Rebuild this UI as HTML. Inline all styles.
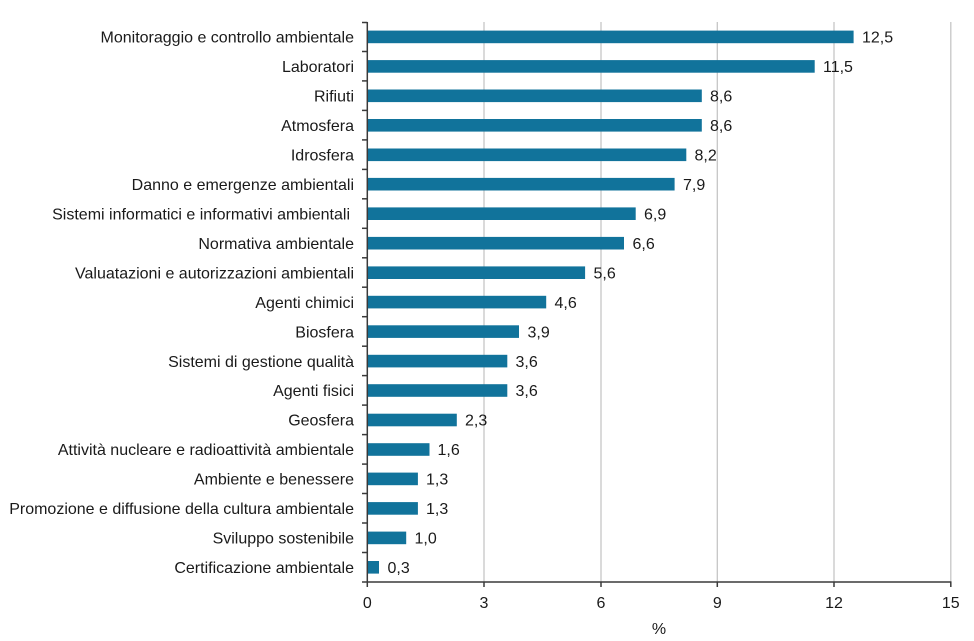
<!DOCTYPE html>
<html>
<head>
<meta charset="utf-8">
<style>
  html,body{margin:0;padding:0;background:#fff;}
  svg{display:block;}
  text{font-family:"Liberation Sans",Arial,sans-serif;font-size:16px;fill:#1a1a1a;}
</style>
</head>
<body>
<svg width="974" height="641" viewBox="0 0 974 641" xmlns="http://www.w3.org/2000/svg">
  <!-- gridlines -->
  <g stroke="#c6c6c6" stroke-width="1.3">
    <line x1="484" y1="22" x2="484" y2="582"/>
    <line x1="601" y1="22" x2="601" y2="582"/>
    <line x1="717.3" y1="22" x2="717.3" y2="582"/>
    <line x1="834" y1="22" x2="834" y2="582"/>
    <line x1="950.8" y1="22" x2="950.8" y2="582"/>
  </g>
  <!-- bars -->
  <g fill="#11739b">
    <rect x="367.3" y="30.6" width="486.3" height="12.6"/>
    <rect x="367.3" y="60.1" width="447.4" height="12.6"/>
    <rect x="367.3" y="89.5" width="334.5" height="12.6"/>
    <rect x="367.3" y="119.0" width="334.5" height="12.6"/>
    <rect x="367.3" y="148.5" width="319.0" height="12.6"/>
    <rect x="367.3" y="177.9" width="307.3" height="12.6"/>
    <rect x="367.3" y="207.4" width="268.4" height="12.6"/>
    <rect x="367.3" y="236.9" width="256.7" height="12.6"/>
    <rect x="367.3" y="266.4" width="217.8" height="12.6"/>
    <rect x="367.3" y="295.8" width="178.9" height="12.6"/>
    <rect x="367.3" y="325.3" width="151.7" height="12.6"/>
    <rect x="367.3" y="354.8" width="140.0" height="12.6"/>
    <rect x="367.3" y="384.2" width="140.0" height="12.6"/>
    <rect x="367.3" y="413.7" width="89.5" height="12.6"/>
    <rect x="367.3" y="443.2" width="62.2" height="12.6"/>
    <rect x="367.3" y="472.6" width="50.6" height="12.6"/>
    <rect x="367.3" y="502.1" width="50.6" height="12.6"/>
    <rect x="367.3" y="531.6" width="38.9" height="12.6"/>
    <rect x="367.3" y="561.0" width="11.7" height="12.6"/>
  </g>
  <!-- axes -->
  <g stroke="#3a3a3a" stroke-width="1.5" fill="none">
    <line x1="367.3" y1="22" x2="367.3" y2="582"/>
    <line x1="362" y1="582" x2="951.5" y2="582"/>
    <!-- y ticks -->
    <line x1="362" y1="22.5" x2="367.3" y2="22.5"/>
    <line x1="362" y1="51.5" x2="367.3" y2="51.5"/>
    <line x1="362" y1="80.9" x2="367.3" y2="80.9"/>
    <line x1="362" y1="110.4" x2="367.3" y2="110.4"/>
    <line x1="362" y1="139.9" x2="367.3" y2="139.9"/>
    <line x1="362" y1="169.4" x2="367.3" y2="169.4"/>
    <line x1="362" y1="198.8" x2="367.3" y2="198.8"/>
    <line x1="362" y1="228.3" x2="367.3" y2="228.3"/>
    <line x1="362" y1="257.8" x2="367.3" y2="257.8"/>
    <line x1="362" y1="287.2" x2="367.3" y2="287.2"/>
    <line x1="362" y1="316.7" x2="367.3" y2="316.7"/>
    <line x1="362" y1="346.2" x2="367.3" y2="346.2"/>
    <line x1="362" y1="375.6" x2="367.3" y2="375.6"/>
    <line x1="362" y1="405.1" x2="367.3" y2="405.1"/>
    <line x1="362" y1="434.6" x2="367.3" y2="434.6"/>
    <line x1="362" y1="464.1" x2="367.3" y2="464.1"/>
    <line x1="362" y1="493.5" x2="367.3" y2="493.5"/>
    <line x1="362" y1="523.0" x2="367.3" y2="523.0"/>
    <line x1="362" y1="552.5" x2="367.3" y2="552.5"/>
    <!-- x ticks -->
    <line x1="367.3" y1="582" x2="367.3" y2="587"/>
    <line x1="484" y1="582" x2="484" y2="587"/>
    <line x1="601" y1="582" x2="601" y2="587"/>
    <line x1="717.3" y1="582" x2="717.3" y2="587"/>
    <line x1="834" y1="582" x2="834" y2="587"/>
    <line x1="950.8" y1="582" x2="950.8" y2="587"/>
  </g>
  <!-- category labels -->
  <g text-anchor="end">
    <text x="354" y="42.6">Monitoraggio e controllo ambientale</text>
    <text x="354" y="72.1">Laboratori</text>
    <text x="354" y="101.5">Rifiuti</text>
    <text x="354" y="131.0">Atmosfera</text>
    <text x="354" y="160.5">Idrosfera</text>
    <text x="354" y="189.9">Danno e emergenze ambientali</text>
    <text x="350" y="219.4">Sistemi informatici e informativi ambientali</text>
    <text x="354" y="248.9">Normativa ambientale</text>
    <text x="354" y="278.4">Valuatazioni e autorizzazioni ambientali</text>
    <text x="354" y="307.8">Agenti chimici</text>
    <text x="354" y="337.3">Biosfera</text>
    <text x="354" y="366.8">Sistemi di gestione qualità</text>
    <text x="354" y="396.2">Agenti fisici</text>
    <text x="354" y="425.7">Geosfera</text>
    <text x="354" y="455.2">Attività nucleare e radioattività ambientale</text>
    <text x="354" y="484.6">Ambiente e benessere</text>
    <text x="354" y="514.1">Promozione e diffusione della cultura ambientale</text>
    <text x="354" y="543.6">Sviluppo sostenibile</text>
    <text x="354" y="573.0">Certificazione ambientale</text>
  </g>
  <!-- value labels -->
  <g>
    <text x="862" y="42.6">12,5</text>
    <text x="823" y="72.1">11,5</text>
    <text x="710" y="101.5">8,6</text>
    <text x="710" y="131.0">8,6</text>
    <text x="694.5" y="160.5">8,2</text>
    <text x="683" y="189.9">7,9</text>
    <text x="644" y="219.4">6,9</text>
    <text x="632.5" y="248.9">6,6</text>
    <text x="593.5" y="278.4">5,6</text>
    <text x="554.5" y="307.8">4,6</text>
    <text x="527.5" y="337.3">3,9</text>
    <text x="515.5" y="366.8">3,6</text>
    <text x="515.5" y="396.2">3,6</text>
    <text x="465" y="425.7">2,3</text>
    <text x="437.5" y="455.2">1,6</text>
    <text x="426" y="484.6">1,3</text>
    <text x="426" y="514.1">1,3</text>
    <text x="414.5" y="543.6">1,0</text>
    <text x="387.5" y="573.0">0,3</text>
  </g>
  <!-- x tick labels -->
  <g text-anchor="middle">
    <text x="367.3" y="608">0</text>
    <text x="484" y="608">3</text>
    <text x="601" y="608">6</text>
    <text x="717.3" y="608">9</text>
    <text x="834" y="608">12</text>
    <text x="950.8" y="608">15</text>
    <text x="659" y="634">%</text>
  </g>
</svg>
</body>
</html>
